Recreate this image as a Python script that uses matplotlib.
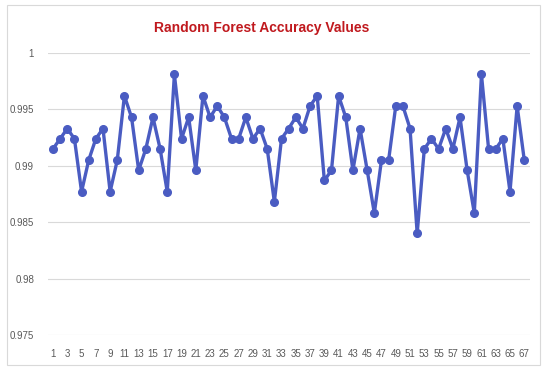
import matplotlib
matplotlib.use("Agg")
import matplotlib.pyplot as plt
from matplotlib.patches import Rectangle

# run index and random forest accuracy per run
runs = list(range(1, 68))
accuracy = [
    0.9915, 0.9924, 0.9933, 0.9924, 0.9877, 0.9905, 0.9924, 0.9933, 0.9877, 0.9905,
    0.9962, 0.9943, 0.9896, 0.9915, 0.9943, 0.9915, 0.9877, 0.9981, 0.9924, 0.9943,
    0.9896, 0.9962, 0.9943, 0.9953, 0.9943, 0.9924, 0.9924, 0.9943, 0.9924, 0.9933,
    0.9915, 0.9868, 0.9924, 0.9933, 0.9943, 0.9933, 0.9953, 0.9962, 0.9887, 0.9896,
    0.9962, 0.9943, 0.9896, 0.9933, 0.9896, 0.9858, 0.9905, 0.9905, 0.9953, 0.9953,
    0.9933, 0.9840, 0.9915, 0.9924, 0.9915, 0.9933, 0.9915, 0.9943, 0.9896, 0.9858,
    0.9981, 0.9915, 0.9915, 0.9924, 0.9877, 0.9953, 0.9905,
]
y_ticks = [0.975, 0.98, 0.985, 0.99, 0.995, 1.0]
y_labels = ["0.975", "0.98", "0.985", "0.99", "0.995", "1"]
x_ticks = runs[::2]

plt.rcParams['font.family'] = ['Liberation Sans', 'DejaVu Sans']

fig = plt.figure(figsize=(5.5, 3.72), dpi=100)
ax = fig.add_axes([48 / 550, 1 - 335 / 372, (530 - 48) / 550, (335 - 53) / 372])

# light chart border like an Excel chart box
fig.patches.append(Rectangle((7 / 550, 7 / 372), 533 / 550, 360 / 372,
                             transform=fig.transFigure, fill=False,
                             edgecolor='#d9d9d9', linewidth=0.8))

ax.plot(runs, accuracy, color='#4a5cc2', linewidth=2.4, marker='o',
        markersize=5.5, zorder=3)

ax.set_ylim(0.975, 1.0)
ax.set_xlim(0.3, 67.8)
ax.set_yticks(y_ticks)
ax.set_yticklabels(y_labels)
ax.set_xticks(x_ticks)
ax.set_xticklabels([str(x) for x in x_ticks])
ax.grid(axis='y', color='#d9d9d9', linewidth=0.8)
ax.set_axisbelow(True)
ax.tick_params(axis='both', length=0, labelsize=7, colors='#595959')
ax.tick_params(axis='y', pad=10)
ax.tick_params(axis='x', pad=10)
for s in ax.spines.values():
    s.set_visible(False)

fig.text(262 / 550, 1 - 28 / 372, 'Random Forest Accuracy Values',
         ha='center', va='center', color='#c0191e', fontsize=10,
         fontweight='bold')

fig.savefig('out.png', dpi=100)
